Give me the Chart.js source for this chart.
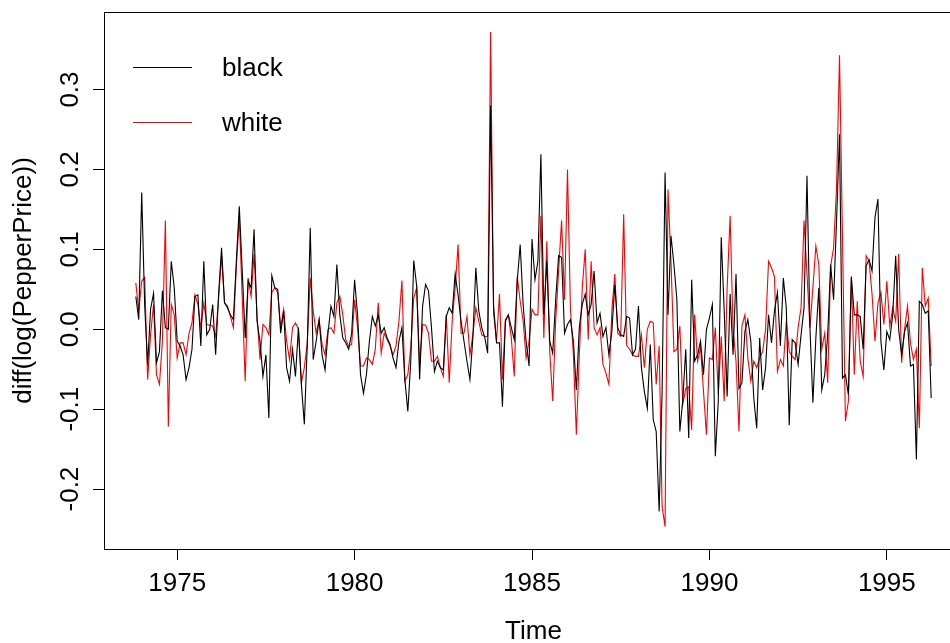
<!DOCTYPE html>
<html><head><meta charset="utf-8">
<script src="https://cdn.jsdelivr.net/npm/chart.js@4.4.1/dist/chart.umd.min.js"></script>
<style>html,body{margin:0;padding:0;overflow:hidden;background:#fff}
#wrap{position:relative;width:963px;height:643px}</style>
</head><body><div id="wrap"><canvas id="c"></canvas></div>
<script>
// Monthly series, first difference of log prices, starting November 1973
const startYear = 1973;
const startMonth = 11;
const seriesNames = ['black', 'white'];
const black = [
 0.041,0.012,0.171,0.03,-0.045,0.025,0.045,-0.042,-0.028,0.048,0.002,0.0,0.085,0.052,-0.015,-0.021,-0.032,-0.063,-0.048,-0.025,0.041,0.043,-0.021,0.085,-0.007,0.0,
 0.031,-0.032,0.043,0.102,0.033,0.027,0.018,0.012,0.085,0.154,0.073,-0.011,0.060,0.052,0.125,0.010,-0.015,-0.059,-0.032,-0.111,0.067,0.052,0.050,-0.005,0.023,-0.048,-0.065,-0.025,
 -0.059,0.002,-0.069,-0.119,-0.019,0.127,-0.038,-0.015,0.012,-0.032,-0.051,-0.005,0.029,0.016,0.081,0.018,-0.011,-0.017,-0.025,-0.005,0.062,0.018,-0.057,-0.080,-0.057,-0.015,0.016,0.004,
 0.018,-0.005,0.002,-0.011,-0.019,-0.036,-0.048,-0.015,0.002,-0.063,-0.103,-0.040,0.086,0.054,-0.063,0.029,0.056,0.048,0.002,-0.053,-0.040,-0.048,-0.051,0.016,0.027,0.020,0.069,0.043,
 0.010,-0.015,-0.040,-0.063,-0.011,0.077,0.023,0.002,-0.010,-0.030,0.280,0.03,-0.017,-0.017,-0.097,0.010,0.018,0.002,-0.013,0.060,0.106,0.031,-0.015,-0.046,0.113,0.062,0.085,0.219,
 0.018,0.085,-0.015,-0.030,0.037,0.092,0.090,-0.005,0.006,0.012,-0.015,-0.076,0.002,0.031,0.044,0.018,0.031,0.073,0.008,0.020,-0.009,0.002,-0.032,-0.003,0.056,0.002,-0.007,
 -0.009,0.016,0.014,-0.032,-0.025,0.029,-0.048,-0.078,-0.099,-0.019,-0.113,-0.128,-0.228,-0.078,0.196,0.018,0.117,0.081,0.037,-0.128,-0.088,-0.025,-0.136,0.062,-0.040,-0.032,-0.015,-0.057,
 0.0,0.014,0.031,-0.159,-0.090,0.115,0.023,-0.084,0.044,-0.032,0.069,-0.074,-0.067,-0.003,0.012,-0.015,-0.086,-0.124,-0.011,-0.076,-0.048,0.018,-0.017,0.023,0.046,-0.021,0.064,0.027,
 -0.120,-0.013,-0.017,-0.044,-0.007,0.027,0.192,0.002,-0.092,-0.011,0.052,-0.076,-0.057,-0.007,0.081,0.037,0.136,0.244,-0.061,-0.057,-0.082,0.066,0.018,0.018,0.016,-0.025,0.079,0.087,
 0.073,0.140,0.163,-0.015,-0.051,-0.003,-0.013,0.018,0.092,0.0,-0.032,-0.003,0.008,-0.046,-0.044,-0.163,0.035,0.031,0.020,0.023,-0.086
];
const white = [
 0.058,0.023,0.06,0.065,-0.063,-0.007,0.031,-0.057,-0.069,-0.015,0.136,-0.122,0.031,0.018,-0.036,-0.017,-0.017,-0.032,-0.005,0.008,0.043,0.031,0.002,0.033,0.006,0.005,
 0.004,-0.009,0.039,0.092,0.033,0.029,0.016,0.002,0.077,0.140,0.039,-0.065,0.064,0.041,0.094,0.018,-0.038,0.006,0.002,-0.007,0.046,0.052,0.046,0.002,0.025,-0.015,-0.038,0.002,
 0.008,0.0,-0.067,-0.048,-0.017,0.064,0.023,-0.005,0.012,-0.019,-0.032,0.0,0.002,-0.005,0.033,0.041,0.018,-0.013,-0.021,-0.019,0.037,0.002,-0.046,-0.046,-0.036,-0.038,-0.044,-0.025,
 0.033,-0.030,-0.005,-0.013,-0.021,-0.032,-0.021,0.010,0.061,-0.065,-0.057,-0.023,0.039,0.052,-0.044,0.006,0.005,-0.005,-0.040,-0.040,-0.034,-0.048,-0.059,0.018,-0.067,0.010,0.052,0.106,
 -0.005,-0.005,0.016,-0.032,-0.007,0.027,0.010,-0.007,-0.009,-0.009,0.372,0.02,-0.015,0.044,-0.063,0.012,0.018,-0.011,-0.059,0.066,0.035,0.010,-0.036,-0.015,0.025,0.018,0.018,0.142,
 -0.011,0.110,-0.028,-0.090,0.010,0.073,0.136,0.037,0.200,0.025,-0.032,-0.132,-0.032,0.052,0.100,-0.013,0.085,0.002,-0.007,0.002,-0.044,-0.055,-0.069,0.023,0.069,-0.005,-0.009,
 0.144,-0.02,-0.025,-0.032,-0.034,-0.034,-0.007,-0.048,0.0,0.010,0.008,-0.069,-0.021,-0.222,-0.247,0.175,0.085,-0.028,-0.025,0.004,-0.094,-0.074,-0.072,-0.126,0.018,-0.040,-0.023,-0.078,
 -0.132,-0.036,-0.038,0.002,-0.082,-0.009,-0.090,0.052,0.142,0.0,-0.04,-0.128,0.004,0.018,-0.036,-0.065,-0.040,-0.048,-0.036,-0.028,0.0,0.085,0.077,0.066,-0.053,-0.038,-0.046,0.010,
 -0.028,-0.034,-0.038,0.002,0.027,0.136,0.069,0.002,0.052,0.104,0.081,-0.025,-0.005,-0.067,0.079,0.102,0.177,0.343,0.115,-0.115,-0.090,0.064,-0.057,0.035,-0.040,-0.059,0.092,0.085,
 0.044,-0.015,0.033,0.046,0.006,0.060,0.004,0.027,0.010,0.094,-0.042,0.0,0.029,-0.017,-0.038,-0.025,-0.124,0.077,0.029,0.039,-0.046
];
const xTickValues = [1975, 1980, 1985, 1990, 1995];
const yTickValues = [-0.2, -0.1, 0.0, 0.1, 0.2, 0.3];
const yTickLabels = ['-0.2', '-0.1', '0.0', '0.1', '0.2', '0.3'];
const xTitle = 'Time';
const yTitle = 'diff(log(PepperPrice))';

const time = black.map((_, i) => startYear + (startMonth - 1 + i) / 12);
const FONT = "'Liberation Sans', Arial, sans-serif";

const rPlot = {
  id: 'rPlot',
  afterDraw(chart) {
    const ctx = chart.ctx, a = chart.chartArea, ys = chart.scales.y;
    ctx.save();
    ctx.strokeStyle = '#000'; ctx.lineWidth = 1;
    ctx.strokeRect(Math.round(a.left) + 0.5, Math.round(a.top) + 0.5,
                   Math.round(a.right - a.left), Math.round(a.bottom - a.top));
    ctx.fillStyle = '#000';
    ctx.font = '26px ' + FONT;
    // y tick labels (rotated like R)
    yTickValues.forEach((v, i) => {
      const py = ys.getPixelForValue(v);
      ctx.save(); ctx.translate(71, py); ctx.rotate(-Math.PI / 2);
      ctx.textAlign = 'center'; ctx.textBaseline = 'middle';
      ctx.fillText(yTickLabels[i], 0, 0); ctx.restore();
    });
    // axis titles
    ctx.save(); ctx.translate(24, (a.top + a.bottom) / 2); ctx.rotate(-Math.PI / 2);
    ctx.textAlign = 'center'; ctx.textBaseline = 'middle';
    ctx.fillText(yTitle, 0, 0); ctx.restore();
    ctx.textAlign = 'center'; ctx.textBaseline = 'middle';
    ctx.fillText(xTitle, (a.left + a.right) / 2, 632);
    // legend
    const cols = chart.data.datasets.map(d => d.borderColor);
    const ly = [67.5, 122.5];
    seriesNames.forEach((n, i) => {
      ctx.strokeStyle = cols[i]; ctx.lineWidth = 1;
      ctx.beginPath(); ctx.moveTo(133, ly[i]); ctx.lineTo(192, ly[i]); ctx.stroke();
      ctx.textAlign = 'left'; ctx.textBaseline = 'middle';
      ctx.fillText(n, 222, ly[i] + 1);
    });
    ctx.restore();
  }
};

new Chart(document.getElementById('c'), {
  type: 'line',
  data: {
    datasets: [
      { label: seriesNames[0], data: time.map((t, i) => ({ x: t, y: black[i] })), borderColor: '#000000', borderWidth: 1.1, pointRadius: 0, tension: 0, fill: false },
      { label: seriesNames[1], data: time.map((t, i) => ({ x: t, y: white[i] })), borderColor: '#ff0000', borderWidth: 1.1, pointRadius: 0, tension: 0, fill: false }
    ]
  },
  options: {
    responsive: true, maintainAspectRatio: false, animation: false,
    devicePixelRatio: 1,
    layout: { padding: { top: 12, left: 0, right: 0, bottom: 0 } },
    plugins: { legend: { display: false }, tooltip: { enabled: false } },
    scales: {
      x: {
        type: 'linear', position: 'bottom', min: 1972.937, max: 1997.147,
        afterFit: s => { s.height = 94; },
        afterBuildTicks: s => { s.ticks = xTickValues.map(v => ({ value: v })); },
        grid: { drawOnChartArea: false, drawTicks: true, tickLength: 11, color: '#000', lineWidth: 1 },
        border: { display: false },
        ticks: { color: '#000', font: { family: FONT, size: 26 }, padding: 8, maxRotation: 0, minRotation: 0, autoSkip: false, callback: v => String(v) }
      },
      y: {
        type: 'linear', position: 'left', min: -0.275, max: 0.397,
        afterFit: s => { s.width = 104; },
        afterBuildTicks: s => { s.ticks = yTickValues.map(v => ({ value: v })); },
        grid: { drawOnChartArea: false, drawTicks: true, tickLength: 11, color: '#000', lineWidth: 1 },
        border: { display: false },
        ticks: { display: false }
      }
    }
  },
  plugins: [rPlot]
});
</script></body></html>
